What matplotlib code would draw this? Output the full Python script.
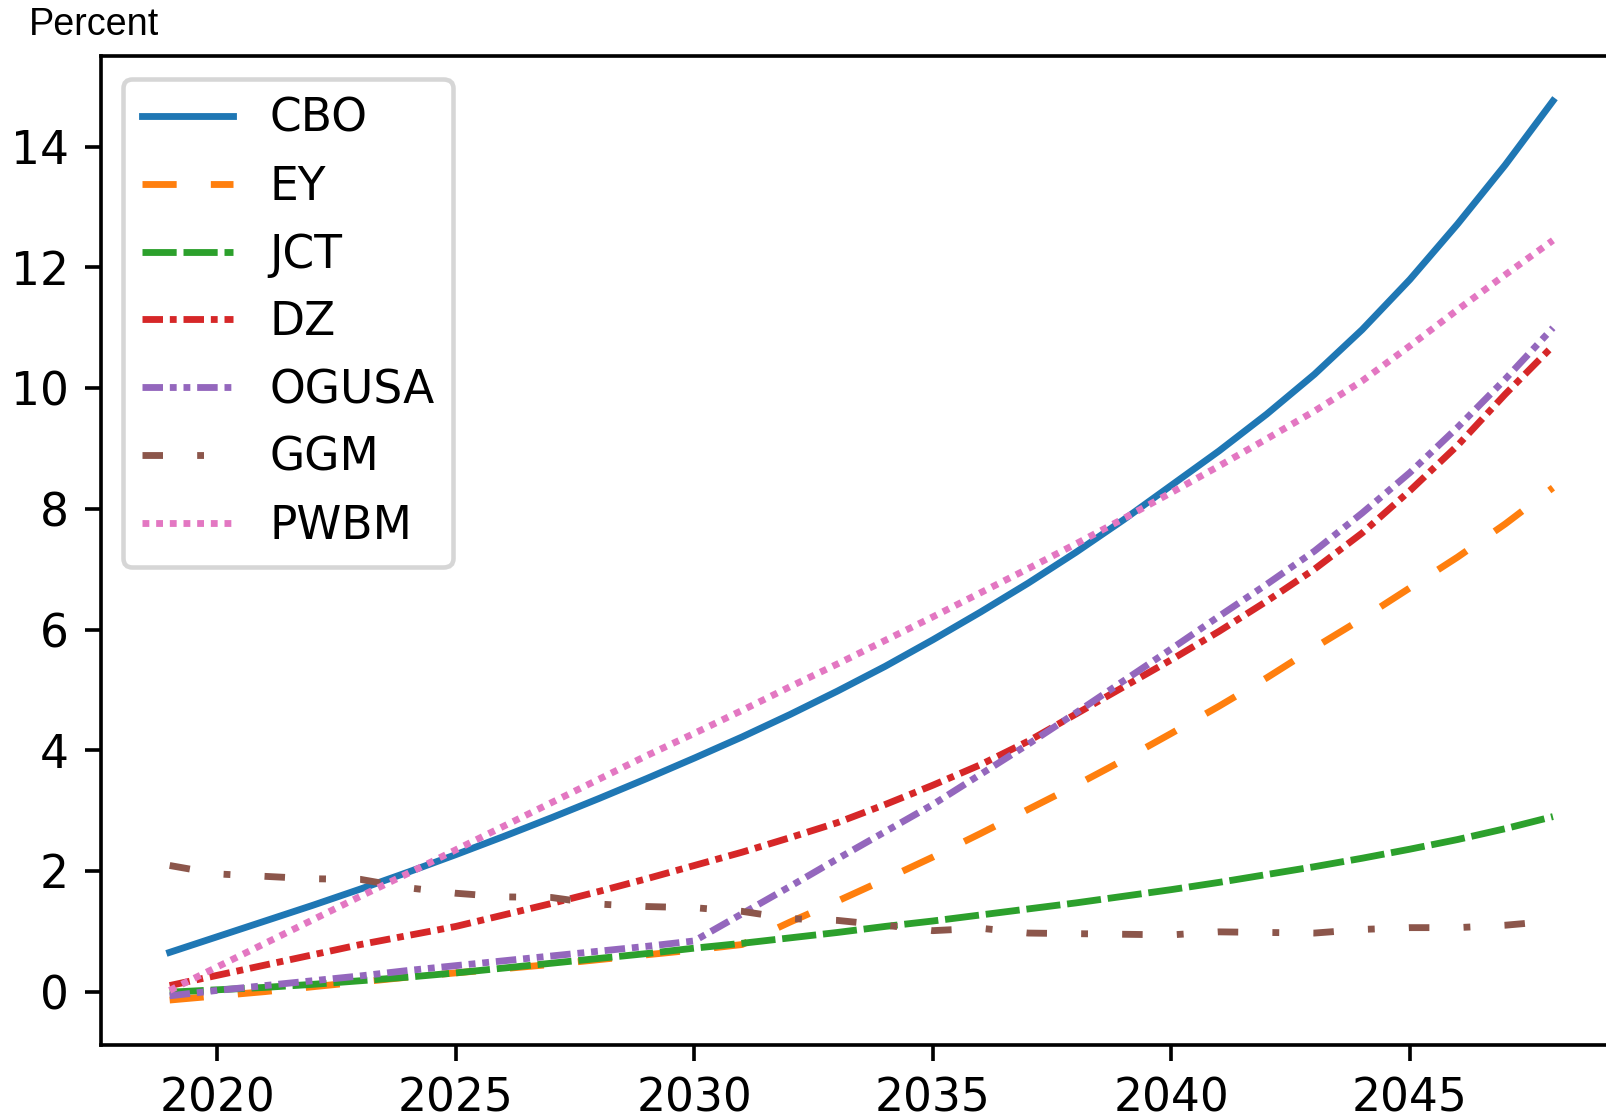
import numpy as np
import matplotlib
matplotlib.use('Agg')
import matplotlib.pyplot as plt

years = list(range(2019, 2049))

cbo = [0.65, 0.91, 1.17, 1.43, 1.70, 1.98, 2.27, 2.57, 2.88, 3.20,
       3.53, 3.87, 4.22, 4.59, 4.98, 5.39, 5.83, 6.29, 6.77, 7.28,
       7.82, 8.39, 8.96, 9.57, 10.23, 10.97, 11.80, 12.72, 13.70, 14.76]
ey = [-0.14, -0.07, 0.00, 0.08, 0.16, 0.24, 0.31, 0.38, 0.45, 0.53,
      0.61, 0.69, 0.78, 1.15, 1.50, 1.86, 2.23, 2.62, 3.02, 3.42,
      3.84, 4.28, 4.73, 5.20, 5.70, 6.18, 6.69, 7.20, 7.75, 8.35]
jct = [-0.01, 0.03, 0.07, 0.12, 0.18, 0.24, 0.31, 0.39, 0.47, 0.55,
       0.63, 0.72, 0.80, 0.89, 0.98, 1.08, 1.17, 1.27, 1.37, 1.47,
       1.58, 1.69, 1.81, 1.94, 2.07, 2.21, 2.36, 2.52, 2.70, 2.90]
dz = [0.10, 0.27, 0.44, 0.61, 0.78, 0.93, 1.08, 1.27, 1.46, 1.66,
      1.87, 2.09, 2.31, 2.55, 2.80, 3.10, 3.42, 3.76, 4.15, 4.60,
      5.05, 5.50, 5.97, 6.47, 7.00, 7.60, 8.30, 9.05, 9.90, 10.70]
ogusa = [-0.07, 0.02, 0.10, 0.18, 0.26, 0.35, 0.43, 0.51, 0.59, 0.67,
         0.75, 0.84, 1.29, 1.74, 2.20, 2.65, 3.10, 3.60, 4.10, 4.62,
         5.15, 5.68, 6.22, 6.75, 7.30, 7.93, 8.60, 9.35, 10.15, 11.00]
ggm = [2.09, 1.95, 1.91, 1.87, 1.86, 1.72, 1.63, 1.57, 1.56, 1.45,
       1.41, 1.39, 1.33, 1.21, 1.18, 1.10, 1.01, 1.05, 0.97, 0.96,
       0.95, 0.94, 0.99, 0.98, 0.97, 1.03, 1.06, 1.06, 1.10, 1.17]
pwbm = [0.02, 0.41, 0.80, 1.19, 1.58, 1.96, 2.35, 2.74, 3.13, 3.52,
        3.91, 4.28, 4.66, 5.05, 5.43, 5.82, 6.21, 6.61, 7.01, 7.42,
        7.84, 8.27, 8.71, 9.16, 9.62, 10.12, 10.70, 11.30, 11.88, 12.45]

names = ['CBO', 'EY', 'JCT', 'DZ', 'OGUSA', 'GGM', 'PWBM']
series = [cbo, ey, jct, dz, ogusa, ggm, pwbm]
styles = ['-', (0, (5, 5)), (0, (5, 1)), (0, (3, 1, 1, 1)),
          (0, (3, 1, 1, 1, 1, 1)), (0, (3, 5, 1, 5)), (0, (1, 1))]

dpi = 328
fig = plt.figure(figsize=(1606 / dpi, 1117 / dpi), dpi=dpi)
# axes run past the right edge, like the cropped original
ax = fig.add_axes([100.5 / 1606, 72 / 1117, 1521.6 / 1606, 989 / 1117])

for name, vals, ls in zip(names, series, styles):
    ax.plot(years, vals, linestyle=ls, label=name)

ax.legend(loc='upper left')

fig.text(29 / 1606, 1 - 35 / 1117, 'Percent', fontsize=8.3,
         family=['Liberation Sans', 'DejaVu Sans'], va='baseline')

fig.savefig('out.png', dpi=dpi)
